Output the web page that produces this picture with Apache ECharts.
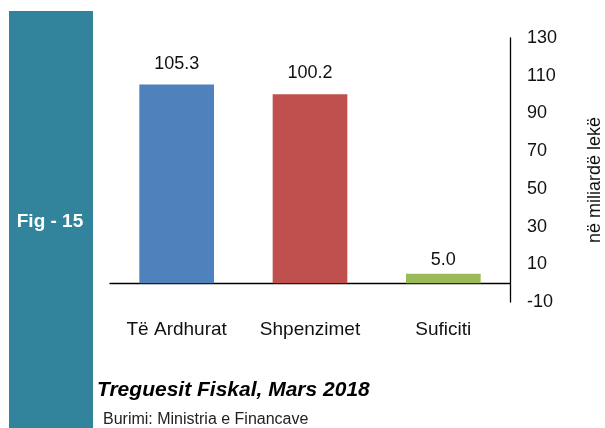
<!DOCTYPE html>
<html>
<head>
<meta charset="utf-8">
<script src="https://cdn.jsdelivr.net/npm/echarts@6/dist/echarts.min.js"></script>
<style>
html,body{margin:0;padding:0;background:#fff;}
#main{width:605px;height:428px;}
</style>
</head>
<body>
<div id="main"></div>
<script>
var categories = ['Të Ardhurat', 'Shpenzimet', 'Suficiti'];
var values = [105.3, 100.2, 5.0];
var barColors = ['#4F81BD', '#C0504D', '#9BBB59'];
var yTicks = {min: -10, max: 130, step: 20};

var font = 'Liberation Sans, Arial, sans-serif';
var chart = echarts.init(document.getElementById('main'));

var barData = values.map(function (v, i) {
    return {
        value: v,
        itemStyle: {color: barColors[i]},
        label: {distance: v < 20 ? 5 : 12}
    };
});

var option = {
    animation: false,
    grid: {left: 110, right: 95, top: 38, bottom: 126, outerBoundsMode: 'none'},
    graphic: [
        {type: 'rect', left: 9, top: 11, shape: {width: 84, height: 420}, style: {fill: '#31849B'}, z: 0},
        {type: 'text', x: 50, y: 222, style: {text: 'Fig - 15', fill: '#fff', font: 'bold 19px ' + font, align: 'center', verticalAlign: 'middle'}},
        {type: 'text', x: 97, y: 390, style: {text: 'Treguesit Fiskal, Mars 2018', fill: '#000', font: 'italic bold 21px ' + font, verticalAlign: 'middle'}},
        {type: 'text', x: 103, y: 420, style: {text: 'Burimi: Ministria e Financave', fill: '#222', font: '16px ' + font, verticalAlign: 'middle'}}
    ],
    xAxis: {
        type: 'category',
        data: categories,
        axisLine: {onZero: true, lineStyle: {color: '#000', width: 1.3}},
        axisTick: {show: false},
        axisLabel: {margin: 18, color: '#111', fontSize: 19, fontFamily: font}
    },
    yAxis: {
        type: 'value',
        position: 'right',
        min: yTicks.min,
        max: yTicks.max,
        interval: yTicks.step,
        splitLine: {show: false},
        axisTick: {show: false},
        axisLine: {show: true, lineStyle: {color: '#000', width: 1.3}},
        axisLabel: {margin: 17, color: '#111', fontSize: 18, fontFamily: font},
        name: 'në miliardë lekë',
        nameLocation: 'middle',
        nameRotate: 90,
        nameGap: 76,
        nameTextStyle: {color: '#111', fontSize: 18, fontFamily: font, padding: [0, 20, 0, 0]}
    },
    series: [{
        type: 'bar',
        data: barData,
        barWidth: '56%',
        label: {
            show: true,
            position: 'top',
            color: '#111',
            fontSize: 18,
            fontFamily: font,
            formatter: function (p) { return p.value.toFixed(1); }
        }
    }]
};
chart.setOption(option);
</script>
</body>
</html>
